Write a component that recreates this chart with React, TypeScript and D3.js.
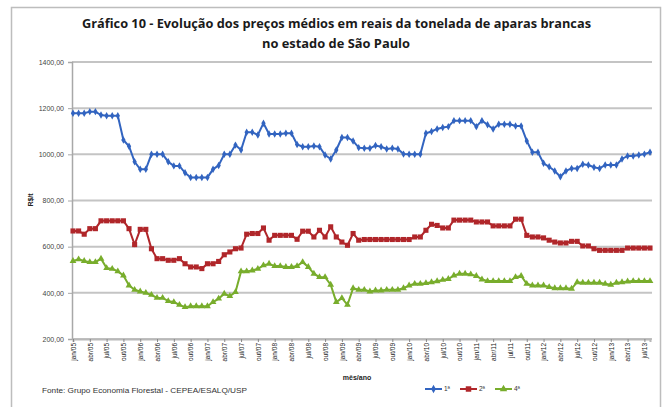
import React, { useEffect, useRef } from "react";
import * as d3 from "d3";

// monthly prices, jan/05 .. ago/13 (R$/t)
const months = ["jan", "fev", "mar", "abr", "mai", "jun", "jul", "ago", "set", "out", "nov", "dez"];
const years = ["05", "06", "07", "08", "09", "10", "11", "12", "13"];

const primeira = [
  1178, 1178, 1178, 1185, 1185, 1170, 1167, 1167, 1167, 1062, 1035, 968,
  935, 935, 1000, 1000, 1000, 968, 950, 950, 920, 900, 900, 900,
  900, 935, 952, 1000, 1000, 1040, 1019, 1096, 1096, 1084, 1135, 1088,
  1088, 1088, 1091, 1091, 1043, 1033, 1033, 1036, 1033, 997, 980, 1019,
  1073, 1073, 1058, 1029, 1026, 1026, 1038, 1033, 1023, 1026, 1023, 1001,
  1000, 1000, 1000, 1091, 1099, 1110, 1116, 1120, 1146, 1146, 1146, 1146,
  1120, 1146, 1128, 1110, 1130, 1130, 1130, 1123, 1123, 1058, 1009, 1009,
  961, 946, 928, 903, 928, 939, 939, 957, 954, 944, 939, 954,
  954, 954, 980, 993, 993, 997, 1001, 1009,
];

const segunda = [
  668, 668, 654, 678, 678, 712, 712, 712, 712, 712, 678, 609,
  675, 675, 591, 548, 548, 541, 541, 548, 526, 512, 512, 505,
  526, 526, 536, 565, 577, 591, 594, 654, 657, 657, 681, 628,
  649, 649, 649, 649, 632, 667, 667, 642, 671, 642, 686, 642,
  620, 606, 657, 628, 631, 631, 631, 631, 631, 631, 631, 631,
  631, 642, 642, 671, 697, 692, 681, 681, 715, 715, 715, 715,
  707, 707, 707, 690, 690, 690, 690, 719, 719, 649, 642, 642,
  638, 628, 620, 616, 616, 623, 623, 603, 603, 591, 584, 584,
  584, 584, 584, 594, 594, 594, 594, 594,
];

const quarta = [
  538, 545, 538, 533, 533, 548, 507, 504, 493, 475, 432, 413,
  406, 400, 391, 378, 378, 364, 360, 348, 338, 342, 342, 342,
  342, 360, 375, 396, 386, 403, 493, 493, 497, 504, 519, 526,
  516, 516, 512, 512, 516, 533, 512, 483, 468, 468, 435, 360,
  377, 348, 420, 413, 413, 406, 410, 410, 413, 413, 413, 420,
  432, 439, 439, 442, 446, 450, 456, 460, 475, 483, 483, 480,
  473, 458, 451, 451, 451, 451, 451, 468, 473, 439, 432, 432,
  432, 425, 420, 420, 420, 418, 446, 444, 444, 444, 444, 439,
  435, 444, 446, 449, 451, 451, 451, 451,
];

const yTicks = [200, 400, 600, 800, 1000, 1200, 1400];

const seriesNames = ["1ª", "2ª", "4ª"];
const seriesColors = ["#3264c0", "#b0262a", "#78ad2c"];
const seriesMarkers = [d3.symbolDiamond, d3.symbolSquare, d3.symbolTriangle];
const markerSizes = [16, 26, 20];

const App = () => {
  const ref = useRef<SVGSVGElement>(null);

  useEffect(() => {
    const svg = d3.select(ref.current);
    svg.selectAll("*").remove();

    const width = 667;
    const height = 407;
    const left = 72;
    const right = 652;
    const top = 62;
    const bottom = 339;

    const labels: string[] = [];
    years.forEach((yr) => months.forEach((m) => labels.push(m + "/" + yr)));
    const cats = labels.slice(0, primeira.length);

    // outer frame
    svg.append("rect")
      .attr("x", 11.5)
      .attr("y", 7.5)
      .attr("width", 649)
      .attr("height", 410)
      .attr("fill", "white")
      .attr("stroke", "#bdbdbd")
      .attr("stroke-width", 1.5);

    // title
    const title = svg.append("g")
      .style("font-family", "'Open Sans', sans-serif")
      .style("font-weight", "bold")
      .style("font-size", "12.5px")
      .attr("fill", "#1a1a1a");
    title.append("text")
      .attr("x", 82).attr("y", 28)
      .attr("textLength", 509)
      .attr("lengthAdjust", "spacingAndGlyphs")
      .text("Gráfico 10 - Evolução dos preços médios em reais da tonelada de aparas brancas");
    title.append("text")
      .attr("x", 262).attr("y", 48)
      .attr("textLength", 148)
      .attr("lengthAdjust", "spacingAndGlyphs")
      .text("no estado de São Paulo");

    const xScale = d3.scalePoint<string>()
      .domain(cats)
      .range([73, 650]);
    const yScale = d3.scaleLinear()
      .domain([200, 1400])
      .range([bottom, top]);

    // grid
    svg.append("g")
      .selectAll("line")
      .data(yTicks)
      .enter()
      .append("line")
      .attr("x1", left)
      .attr("x2", right)
      .attr("y1", (d) => yScale(d))
      .attr("y2", (d) => yScale(d))
      .attr("stroke", "#c4c4c4")
      .attr("stroke-width", 2);

    const fmt = (v: number) => d3.format(".2f")(v).replace(".", ",");

    const yAxis = d3.axisLeft(yScale)
      .tickValues(yTicks)
      .tickFormat((d) => fmt(d as number))
      .tickSize(4)
      .tickPadding(4);
    const gy = svg.append("g")
      .attr("transform", "translate(" + left + ",0)")
      .call(yAxis);
    gy.select(".domain").attr("stroke", "#a8a8a8").attr("stroke-width", 1.5);
    gy.selectAll(".tick line").attr("stroke", "#a8a8a8");
    gy.selectAll(".tick text")
      .style("font-family", "'Liberation Sans', sans-serif")
      .style("font-size", "7px")
      .attr("fill", "#444");

    const tickCats = cats.filter((c, i) => i % 3 === 0);
    const xAxis = d3.axisBottom(xScale)
      .tickValues(tickCats)
      .tickSize(3)
      .tickPadding(3);
    const gx = svg.append("g")
      .attr("transform", "translate(0," + bottom + ")")
      .call(xAxis);
    gx.select(".domain").attr("stroke", "#b8b8b8").attr("stroke-width", 2);
    gx.selectAll(".tick line").attr("stroke", "#888");
    gx.selectAll(".tick text")
      .style("font-family", "'Liberation Sans', sans-serif")
      .style("font-size", "6.5px")
      .attr("fill", "#222")
      .attr("text-anchor", "end")
      .attr("transform", "rotate(-90)")
      .attr("x", -4)
      .attr("y", 0)
      .attr("dy", "0.35em");

    // axis titles
    svg.append("text")
      .attr("transform", "translate(33,200) rotate(-90)")
      .attr("text-anchor", "middle")
      .style("font-family", "'Liberation Sans', sans-serif")
      .style("font-size", "7px")
      .style("font-weight", "bold")
      .attr("fill", "#222")
      .text("R$/t");

    svg.append("text")
      .attr("x", 357)
      .attr("y", 380)
      .attr("text-anchor", "middle")
      .style("font-family", "'Liberation Sans', sans-serif")
      .style("font-size", "7px")
      .style("font-weight", "bold")
      .attr("fill", "#222")
      .text("mês/ano");

    // series
    const allSeries = [primeira, segunda, quarta];
    allSeries.forEach((values, s) => {
      const line = d3.line<number>()
        .x((d, i) => xScale(cats[i]) as number)
        .y((d) => yScale(d));
      svg.append("path")
        .datum(values)
        .attr("fill", "none")
        .attr("stroke", seriesColors[s])
        .attr("stroke-width", 2)
        .attr("d", line);
      const sym = d3.symbol().type(seriesMarkers[s]).size(markerSizes[s]);
      svg.append("g")
        .selectAll("path")
        .data(values)
        .enter()
        .append("path")
        .attr("d", sym)
        .attr("transform", (d, i) => "translate(" + xScale(cats[i]) + "," + yScale(d) + ")")
        .attr("fill", seriesColors[s]);
    });

    // legend
    const legend = svg.append("g").attr("transform", "translate(425,389)");
    seriesNames.forEach((name, s) => {
      const g = legend.append("g").attr("transform", "translate(" + s * 35 + ",0)");
      g.append("line")
        .attr("x1", 0).attr("x2", 17)
        .attr("stroke", seriesColors[s])
        .attr("stroke-width", 2);
      g.append("path")
        .attr("d", d3.symbol().type(seriesMarkers[s]).size(markerSizes[s] + 4)())
        .attr("transform", "translate(8.5,0)")
        .attr("fill", seriesColors[s]);
      g.append("text")
        .attr("x", 19).attr("dy", "0.35em")
        .style("font-family", "'Liberation Sans', sans-serif")
        .style("font-size", "6.5px")
        .attr("fill", "#333")
        .text(name);
    });

    // source
    svg.append("text")
      .attr("x", 42)
      .attr("y", 393)
      .attr("textLength", 205)
      .attr("lengthAdjust", "spacingAndGlyphs")
      .style("font-family", "'Liberation Sans', sans-serif")
      .style("font-size", "7.5px")
      .attr("fill", "#333")
      .text("Fonte: Grupo Economia Florestal - CEPEA/ESALQ/USP");

    svg.attr("width", width).attr("height", height);
  }, []);

  return (
    <svg
      ref={ref}
      width={667}
      height={407}
      style={{ position: "absolute", left: 0, top: 0, background: "white" }}
    />
  );
};

export default App;
